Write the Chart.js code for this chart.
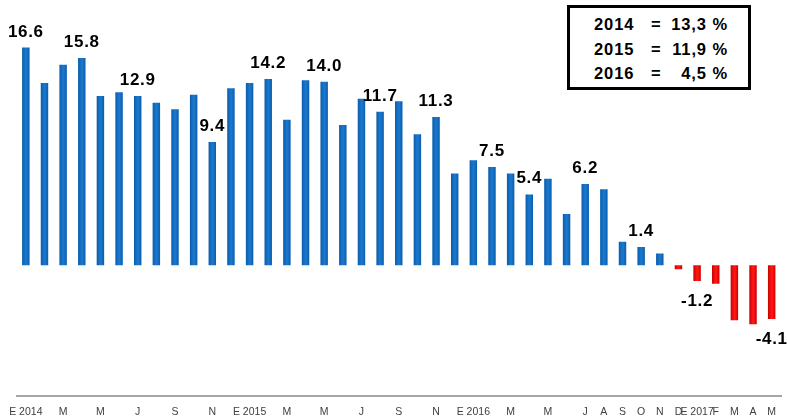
<!DOCTYPE html>
<html>
<head>
<meta charset="utf-8">
<script src="https://cdn.jsdelivr.net/npm/chart.js@4.4.0/dist/chart.umd.min.js"></script>
<style>
    html, body { margin: 0; padding: 0; background: #fff; }
    #wrap { position: relative; width: 787px; height: 419px; }
    #summary {
        position: absolute; left: 567px; top: 5px;
        width: 178px; height: 79px;
        border: 3px solid #000; background: #fff;
        font: bold 16.5px "Liberation Sans", Arial, sans-serif; color: #000;
        letter-spacing: 0.9px;
    }
    .row { position: absolute; left: 0; width: 100%; height: 20px; line-height: 20px; }
    .row span { position: absolute; top: 0; white-space: nowrap; }
</style>
</head>
<body>
<div id="wrap">
    <canvas id="chart" width="787" height="419"></canvas>
    <div id="summary"></div>
</div>
<script>
// 月ラベル（空欄は表示しない月）
const monthLabels = [
    'E 2014', '', 'M', '', 'M', '', 'J', '', 'S', '', 'N', '',
    'E 2015', '', 'M', '', 'M', '', 'J', '', 'S', '', 'N', '',
    'E 2016', '', 'M', '', 'M', '', 'J', 'A', 'S', 'O', 'N', 'D',
    'E 2017', 'F', 'M', 'A', 'M'
];

// 年ごとの値（％）
const values2014 = [16.6, 13.9, 15.3, 15.8, 12.9, 13.2, 12.9, 12.4, 11.9, 13.0, 9.4, 13.5];
const values2015 = [13.9, 14.2, 11.1, 14.1, 14.0, 10.7, 12.7, 11.7, 12.5, 10.0, 11.3, 7.0];
const values2016 = [8.0, 7.5, 7.0, 5.4, 6.6, 3.9, 6.2, 5.8, 1.8, 1.4, 0.9, -0.3];
const values2017 = [-1.2, -1.4, -4.2, -4.5, -4.1];

// 数値ラベルを付けるバーの位置
const labeledBars = [0, 3, 6, 10, 13, 16, 19, 22, 25, 27, 30, 33, 36, 40];

// 右上の年平均ボックス
const summaryYears = ['2014', '2015', '2016'];
const summaryRates = ['13,3 %', '11,9 %', '4,5 %'];

const allValues = [...values2014, ...values2015, ...values2016, ...values2017];

// 年平均ボックスを作る
const summary = document.getElementById('summary');
summaryYears.forEach((year, i) => {
    const row = document.createElement('div');
    row.className = 'row';
    row.style.top = (6 + i * 24.6) + 'px';
    row.innerHTML = `<span style="left:24px">${year}</span>` +
        `<span style="left:81px">=</span>` +
        `<span style="right:20px">${summaryRates[i]}</span>`;
    summary.appendChild(row);
});

// バーの塗り（左右の縁を少し暗くする）
function barFill(context) {
    const neg = context.raw < 0;
    const dark = neg ? '#c00000' : '#0a5aa6';
    const light = neg ? '#ff1414' : '#1876cc';
    const chart = context.chart;
    if (context.type !== 'data' || !chart.chartArea || !chart.scales.x) return light;
    const x = chart.scales.x.getPixelForValue(context.dataIndex);
    const g = chart.ctx.createLinearGradient(x - 4, 0, x + 4, 0);
    g.addColorStop(0, dark);
    g.addColorStop(0.45, light);
    g.addColorStop(0.6, light);
    g.addColorStop(1, dark);
    return g;
}

// 数値ラベルを描くプラグイン
const valueLabels = {
    id: 'valueLabels',
    afterDatasetsDraw(chart) {
        const ctx = chart.ctx;
        const meta = chart.getDatasetMeta(0);
        ctx.save();
        ctx.font = 'bold 17px "Liberation Sans", Arial, sans-serif';
        ctx.letterSpacing = '0.7px';
        ctx.fillStyle = '#000';
        ctx.textAlign = 'center';
        ctx.textBaseline = 'alphabetic';
        labeledBars.forEach(i => {
            const bar = meta.data[i];
            const v = allValues[i];
            const y = v >= 0 ? bar.y - 11 : bar.y + 25;
            ctx.fillText(v.toFixed(1), bar.x, y);
        });
        ctx.restore();
    }
};

new Chart(document.getElementById('chart'), {
    type: 'bar',
    data: {
        labels: monthLabels,
        datasets: [{
            data: allValues,
            backgroundColor: barFill,
            borderWidth: 0,
            barPercentage: 0.4,
            categoryPercentage: 1
        }]
    },
    options: {
        responsive: false,
        animation: false,
        layout: { padding: { left: 16, right: 6, top: 3, bottom: -8 } },
        scales: {
            x: {
                grid: { display: false, drawTicks: false },
                border: { display: true, color: '#a6a6a6', width: 2 },
                ticks: {
                    autoSkip: false,
                    maxRotation: 0,
                    minRotation: 0,
                    padding: 9,
                    color: '#404040',
                    font: { family: '"Liberation Sans", Arial, sans-serif', size: 10.5 }
                }
            },
            y: {
                display: false,
                min: -10,
                max: 20
            }
        },
        plugins: {
            legend: { display: false },
            tooltip: { enabled: false }
        }
    },
    plugins: [valueLabels]
});
</script>
</body>
</html>
